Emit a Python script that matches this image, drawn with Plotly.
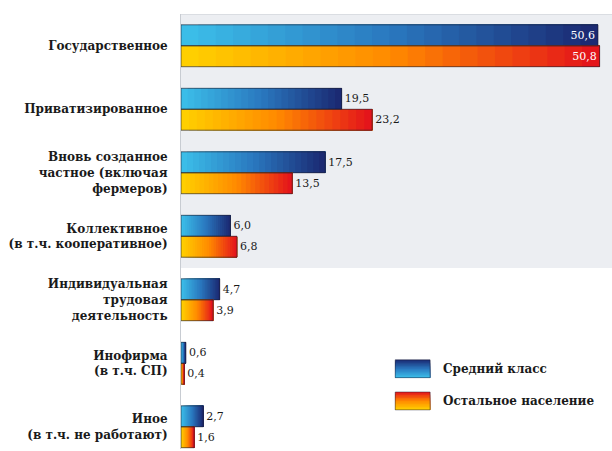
import plotly.graph_objects as go

categories = [
    "Государственное",
    "Приватизированное",
    "Вновь созданное<br>частное (включая<br>фермеров)",
    "Коллективное<br>(в т.ч. кооперативное)",
    "Индивидуальная<br>трудовая<br>деятельность",
    "Инофирма<br>(в т.ч. СП)",
    "Иное<br>(в т.ч. не работают)",
]
middle_class = [50.6, 19.5, 17.5, 6.0, 4.7, 0.6, 2.7]
rest_population = [50.8, 23.2, 13.5, 6.8, 3.9, 0.4, 1.6]
series_names = ["Средний класс", "Остальное население"]

N = 24
SERIF = "DejaVu Serif"


def hex2rgb(h):
    h = h.lstrip("#")
    return [int(h[i:i + 2], 16) for i in (0, 2, 4)]


def interp(stops, t):
    n = len(stops) - 1
    k = min(int(t * n), n - 1)
    lt = t * n - k
    a, b = hex2rgb(stops[k]), hex2rgb(stops[k + 1])
    c = [round(a[i] + (b[i] - a[i]) * lt) for i in range(3)]
    return "rgb(%d,%d,%d)" % tuple(c)


blue_stops = ["#3cc0ea", "#2a78bf", "#1a2770"]
orange_stops = ["#ffd200", "#ff8a00", "#e3101c"]

fig = go.Figure()

for vals, stops, grp in [(middle_class, blue_stops, "a"), (rest_population, orange_stops, "b")]:
    for i in range(N):
        fig.add_trace(go.Bar(
            y=categories,
            x=[v * (N - i) / N for v in vals],
            base=[v * i / N for v in vals],
            orientation="h",
            offsetgroup=grp,
            marker=dict(color=interp(stops, (i + 0.5) / N), line=dict(width=0)),
            showlegend=False,
            hoverinfo="skip",
        ))

for vals, grp, name in [(middle_class, "a", series_names[0]), (rest_population, "b", series_names[1])]:
    fig.add_trace(go.Bar(
        y=categories,
        x=vals,
        orientation="h",
        offsetgroup=grp,
        name=name,
        marker=dict(color="rgba(0,0,0,0)", line=dict(color="rgba(30,30,50,0.7)", width=0.9)),
        text=[("%.1f" % v).replace(".", ",") for v in vals],
        textposition=["inside" if v > 40 else "outside" for v in vals],
        insidetextanchor="end",
        insidetextfont=dict(color="white", size=11, family=SERIF),
        outsidetextfont=dict(color="#1a1a1a", size=11, family=SERIF),
        cliponaxis=False,
        showlegend=False,
    ))

fig.add_shape(type="rect", xref="paper", x0=0, x1=1, yref="y", y0=-0.5, y1=3.5,
              fillcolor="#eceef2", line=dict(width=0), layer="below")
fig.add_shape(type="line", xref="paper", x0=0, x1=1, yref="y", y0=-0.5, y1=-0.5,
              line=dict(color="#c8ccd2", width=1), layer="below")


def swatch(y0, y1, stops):
    M = 12
    for i in range(M):
        fig.add_shape(type="rect", xref="paper", yref="paper",
                      x0=0.497, x1=0.578,
                      y0=y0, y1=y1 - (y1 - y0) * i / M,
                      fillcolor=interp(stops[::-1], (i + 0.5) / M), line=dict(width=0))
    fig.add_shape(type="rect", xref="paper", yref="paper", x0=0.497, x1=0.578, y0=y0, y1=y1,
                  line=dict(color="rgba(30,30,50,0.6)", width=0.8))


swatch(0.164, 0.205, blue_stops)
swatch(0.090, 0.131, orange_stops)
for yy, name in [(0.185, series_names[0]), (0.111, series_names[1])]:
    fig.add_annotation(xref="paper", yref="paper", x=0.604, y=yy, text="<b>%s</b>" % name, showarrow=False,
                       xanchor="left", yanchor="middle",
                       font=dict(family=SERIF, size=12, color="#1a1a1a"))

fig.update_layout(
    width=612, height=451,
    margin=dict(l=181, r=0, t=14, b=2),
    barmode="group",
    bargap=0.34,
    bargroupgap=0,
    plot_bgcolor="white",
    paper_bgcolor="white",
    showlegend=False,
    font=dict(family=SERIF, size=12, color="#1a1a1a"),
)
fig.update_xaxes(range=[0, 52.3], visible=False)
fig.update_yaxes(range=[6.35, -0.5], showgrid=False, showline=True, linecolor="#c8ccd2",
                 ticks="", ticklabelstandoff=10,
                 tickfont=dict(family=SERIF, size=12, color="#1a1a1a", weight="bold"))

fig.write_html("out.html", config={"displayModeBar": False},
               post_script="document.body.style.margin='0';document.body.style.overflow='hidden';")
